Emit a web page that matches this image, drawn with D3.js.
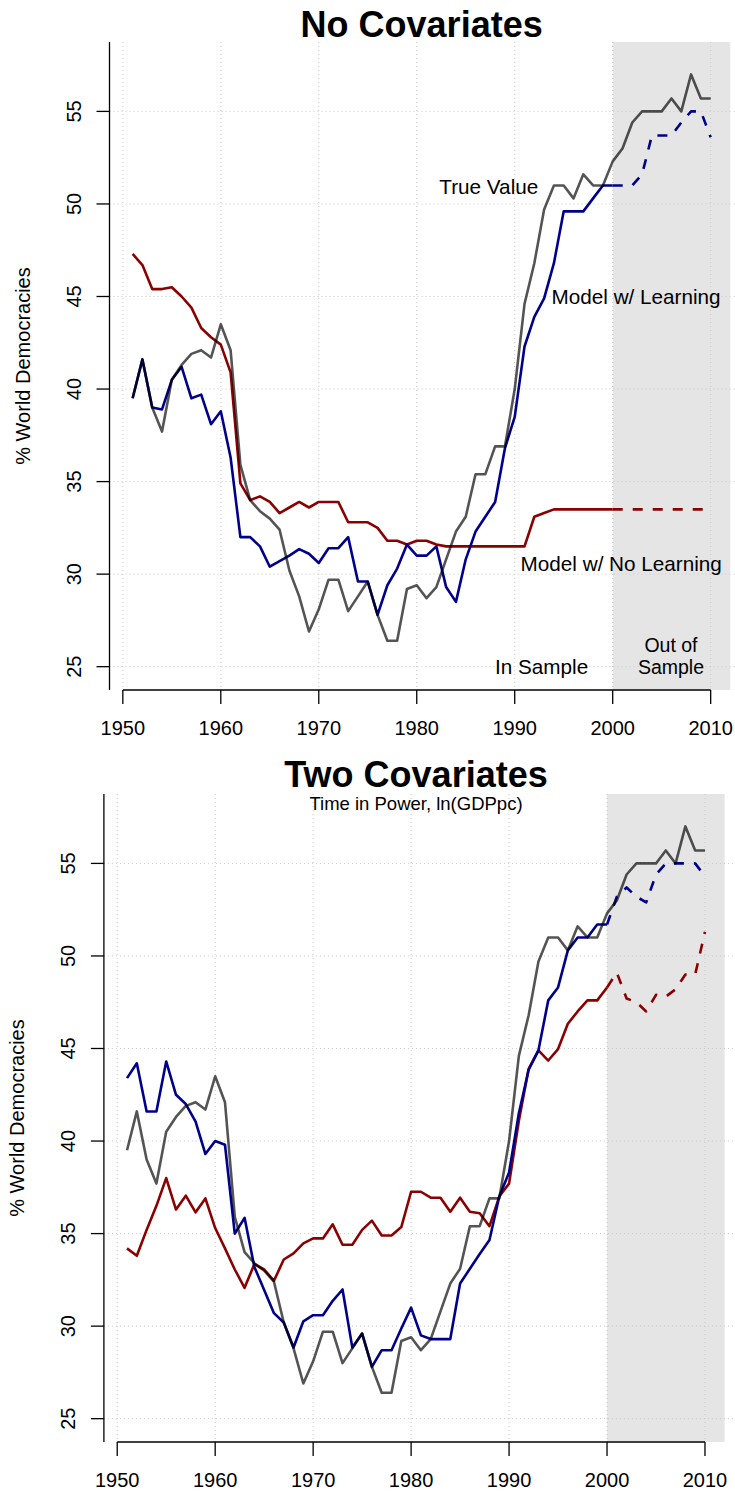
<!DOCTYPE html>
<html><head><meta charset="utf-8">
<script src="https://cdn.jsdelivr.net/npm/d3@7"></script>
<style>
html,body{margin:0;padding:0;background:#fff;}
svg text{font-family:"Liberation Sans",Arial,Helvetica,sans-serif;}
</style></head>
<body>
<svg id="chart" width="735" height="1495"></svg>
<script>
// ---------- DATA ----------
const years = [1951,1952,1953,1954,1955,1956,1957,1958,1959,1960,
  1961,1962,1963,1964,1965,1966,1967,1968,1969,1970,
  1971,1972,1973,1974,1975,1976,1977,1978,1979,1980,
  1981,1982,1983,1984,1985,1986,1987,1988,1989,1990,
  1991,1992,1993,1994,1995,1996,1997,1998,1999,2000,
  2001,2002,2003,2004,2005,2006,2007,2008,2009,2010];
const inSampleYears = years.slice(0, 50);           // 1951-2000
const forecastYears = [2000,2001,2002,2003,2004,2005,2006,2007,2008,2009,2010];

const trueValue = [39.5,41.6,39.0,37.7,40.5,41.3,41.9,42.1,41.7,43.5,
  42.1,35.9,34.0,33.4,33.0,32.4,30.2,28.8,26.9,28.1,
  29.7,29.7,28.0,28.8,29.6,27.8,26.4,26.4,29.2,29.4,
  28.7,29.3,30.8,32.3,33.1,35.4,35.4,36.9,36.9,40.0,
  44.6,46.8,49.7,51.0,51.0,50.3,51.6,51.0,51.0,52.3,
  53.0,54.4,55.0,55.0,55.0,55.7,55.0,57.0,55.7,55.7];

// Panel 1: No Covariates
const noCovLearn = [39.5,41.6,39.0,38.9,40.5,41.2,39.5,39.7,38.1,38.8,
  36.3,32.0,32.0,31.5,30.4,30.7,31.0,31.35,31.1,30.6,
  31.4,31.4,32.0,29.6,29.6,27.8,29.4,30.3,31.6,31.0,
  31.0,31.5,29.3,28.5,30.8,32.3,33.1,33.9,36.8,38.5,
  42.3,43.9,44.9,46.8,49.6,49.6,49.6,50.3,51.0,51.0];
const noCovLearnFcst = [51.0,51.0,51.0,51.6,53.7,53.7,53.7,54.4,55.0,55.0,53.6];
const noCovNoLearn = [47.3,46.7,45.4,45.4,45.5,45.0,44.4,43.3,42.8,42.4,
  40.9,34.9,34.0,34.2,33.9,33.3,33.6,33.9,33.6,33.9,
  33.9,33.9,32.8,32.8,32.8,32.5,31.8,31.8,31.6,31.8,
  31.8,31.6,31.5,31.5,31.5,31.5,31.5,31.5,31.5,31.5,
  31.5,33.1,33.3,33.5,33.5,33.5,33.5,33.5,33.5,33.5];
const noCovNoLearnFcst = [33.5,33.5,33.5,33.5,33.5,33.5,33.5,33.5,33.5,33.5,33.5];

// Panel 2: Two Covariates
const twoCovLearn = [43.4,44.2,41.6,41.6,44.3,42.5,42.0,41.05,39.3,40.0,
  39.8,35.0,35.85,33.2,31.95,30.7,30.2,28.85,30.26,30.59,
  30.59,31.37,31.98,28.84,29.6,27.8,28.7,28.7,29.87,31.0,
  29.5,29.3,29.3,29.3,32.3,33.1,33.9,34.65,37.0,38.3,
  41.5,43.85,44.9,47.6,48.3,50.3,51.0,51.0,51.7,51.7];
const twoCovLearnFcst = [51.7,53.2,53.7,53.2,52.9,54.4,55.0,55.0,55.0,55.0,54.3];
const twoCovNoLearn = [34.2,33.8,35.2,36.5,38.0,36.3,37.05,36.15,36.9,35.3,
  34.2,33.06,32.07,33.35,33.06,32.45,33.6,33.93,34.47,34.74,
  34.74,35.5,34.4,34.4,35.2,35.7,34.9,34.9,35.35,37.26,
  37.26,36.94,36.94,36.18,36.94,36.18,36.1,35.4,37.0,37.7,
  41.1,43.9,44.9,44.35,44.97,46.34,47.0,47.6,47.6,48.3];
const twoCovNoLearnFcst = [48.3,49.1,47.7,47.5,47.0,47.9,47.8,48.2,49.0,49.0,51.3];

const xTicks = [1950,1960,1970,1980,1990,2000,2010];
const yTicks = [25,30,35,40,45,50,55];
const outOfSampleRange = [2000, 2012];
const xLimits = [1948.64, 2012.36];
const yLimits = [23.74, 58.75];

// ---------- DRAW ----------
const svg = d3.select("#chart");
const COL_TRUE = "rgba(0,0,0,0.67)", COL_LEARN = "#00008B", COL_NOLEARN = "#8B0000";

function panel(opt) {
  const x = d3.scaleLinear().domain(xLimits).range([opt.left, opt.right]);
  const y = d3.scaleLinear().domain(yLimits).range([opt.bottom, opt.top]);
  const g = svg.append("g");
  const clipId = "clip" + opt.id;
  g.append("clipPath").attr("id", clipId).append("rect")
    .attr("x", opt.left).attr("y", opt.top)
    .attr("width", opt.right - opt.left).attr("height", opt.bottom - opt.top);

  // shaded out-of-sample region
  g.append("rect")
    .attr("x", x(outOfSampleRange[0])).attr("y", opt.top)
    .attr("width", x(outOfSampleRange[1]) - x(outOfSampleRange[0]))
    .attr("height", opt.bottom - opt.top)
    .attr("fill", "#e5e5e5");

  // grid
  const grid = g.append("g").attr("stroke", "#c8c8c8").attr("stroke-width", 1)
    .attr("stroke-dasharray", "1,3");
  grid.selectAll("line.v").data(xTicks).join("line")
    .attr("x1", d => x(d)).attr("x2", d => x(d))
    .attr("y1", opt.top).attr("y2", opt.bottom);
  grid.selectAll("line.h").data(yTicks).join("line")
    .attr("x1", opt.left).attr("x2", 735)
    .attr("y1", d => y(d)).attr("y2", d => y(d));

  // lines
  const line = d3.line().x(d => x(d[0])).y(d => y(d[1]));
  const lg = g.append("g").attr("clip-path", `url(#${clipId})`)
    .attr("fill", "none").attr("stroke-width", 2.6).attr("stroke-linejoin", "round");
  const zip = (a, b) => a.map((v, i) => [v, b[i]]);
  lg.append("path").attr("d", line(zip(inSampleYears, opt.noLearn))).attr("stroke", COL_NOLEARN);
  lg.append("path").attr("d", line(zip(forecastYears, opt.noLearnF))).attr("stroke", COL_NOLEARN)
    .attr("stroke-dasharray", "10,10");
  lg.append("path").attr("d", line(zip(inSampleYears, opt.learn))).attr("stroke", COL_LEARN);
  lg.append("path").attr("d", line(zip(forecastYears, opt.learnF))).attr("stroke", COL_LEARN)
    .attr("stroke-dasharray", "10,10");
  lg.append("path").attr("d", line(zip(years, trueValue))).attr("stroke", COL_TRUE);

  // axes
  const ax = g.append("g").attr("stroke", "#000").attr("stroke-width", 1.3);
  ax.append("line").attr("x1", x(xTicks[0])).attr("x2", x(xTicks[xTicks.length - 1]))
    .attr("y1", opt.bottom).attr("y2", opt.bottom);
  ax.selectAll("line.xt").data(xTicks).join("line")
    .attr("x1", d => x(d)).attr("x2", d => x(d))
    .attr("y1", opt.bottom).attr("y2", opt.bottom + 14);
  ax.append("line").attr("x1", opt.left).attr("x2", opt.left)
    .attr("y1", opt.top).attr("y2", opt.bottom);
  ax.selectAll("line.yt").data(yTicks).join("line")
    .attr("x1", opt.left).attr("x2", opt.left - 13)
    .attr("y1", d => y(d)).attr("y2", d => y(d));

  g.selectAll("text.xl").data(xTicks).join("text")
    .attr("x", d => x(d)).attr("y", opt.bottom + 45)
    .attr("text-anchor", "middle").attr("font-size", 20).text(d => d);
  g.selectAll("text.yl").data(yTicks).join("text")
    .attr("transform", d => `translate(${opt.left - 29},${y(d)}) rotate(-90)`)
    .attr("text-anchor", "middle").attr("font-size", 20).text(d => d);
  g.append("text")
    .attr("transform", `translate(${opt.left - 80},${(opt.top + opt.bottom) / 2}) rotate(-90)`)
    .attr("text-anchor", "middle").attr("font-size", 20).text("% World Democracies");

  // titles
  const cx = (opt.left + opt.right) / 2;
  g.append("text").attr("x", cx).attr("y", opt.top - (opt.subtitle ? 7 : 5)).attr("text-anchor", "middle")
    .attr("font-size", 36).attr("font-weight", "bold").text(opt.title);
  if (opt.subtitle) {
    g.append("text").attr("x", cx).attr("y", opt.top + 15.5).attr("text-anchor", "middle")
      .attr("font-size", 18.5).text(opt.subtitle);
  }
  if (opt.labels) {
    g.selectAll("text.ann").data(opt.labels).join("text")
      .attr("x", d => x(d.x)).attr("y", d => y(d.y)).attr("dy", "0.36em")
      .attr("text-anchor", d => d.anchor).attr("font-size", d => d.size).text(d => d.text);
  }
}

const annotations = [
  {text: "True Value", x: 1992.4, y: 50.93, anchor: "end", size: 20.7},
  {text: "Model w/ Learning", x: 1993.76, y: 45.0, anchor: "start", size: 20.7},
  {text: "Model w/ No Learning", x: 1990.6, y: 30.55, anchor: "start", size: 20.7},
  {text: "In Sample", x: 1997.5, y: 25.0, anchor: "end", size: 20.7},
  {text: "Out of", x: 2005.95, y: 26.16, anchor: "middle", size: 19.5},
  {text: "Sample", x: 2005.95, y: 24.98, anchor: "middle", size: 19.5}
];

panel({id: 1, left: 109.5, right: 733.8, top: 42, bottom: 690,
  title: "No Covariates", learn: noCovLearn, learnF: noCovLearnFcst,
  noLearn: noCovNoLearn, noLearnF: noCovNoLearnFcst, labels: annotations});
panel({id: 2, left: 103.9, right: 728.1, top: 794, bottom: 1442,
  title: "Two Covariates", subtitle: "Time in Power, ln(GDPpc)",
  learn: twoCovLearn, learnF: twoCovLearnFcst,
  noLearn: twoCovNoLearn, noLearnF: twoCovNoLearnFcst});
</script>
</body></html>
